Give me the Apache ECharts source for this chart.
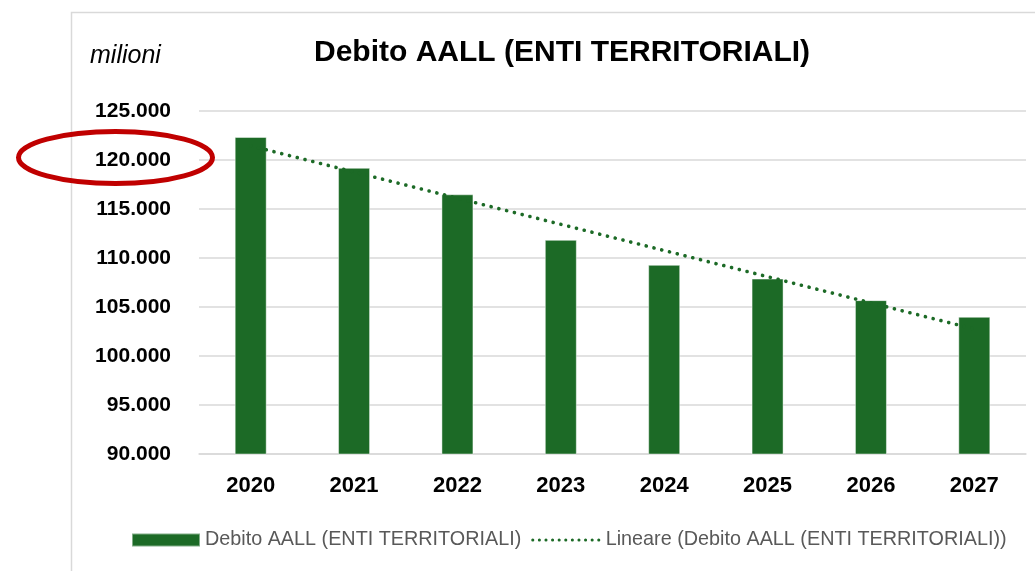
<!DOCTYPE html>
<html>
<head>
<meta charset="utf-8">
<script src="https://cdn.jsdelivr.net/npm/echarts@6/dist/echarts.min.js"></script>
<style>
  html, body { margin: 0; padding: 0; background: #fff; }
  #chart { width: 1035px; height: 571px; }
</style>
</head>
<body>
<div id="chart"></div>
<script>
// anni e valori (milioni)
var years = ['2020', '2021', '2022', '2023', '2024', '2025', '2026', '2027'];
var debito = [122350, 119200, 116500, 111850, 109300, 107900, 105700, 104000];
// linea di tendenza lineare: solo estremi
var tendenza = [121450, null, null, null, null, null, null, 102750];
var yTicks = [90000, 95000, 100000, 105000, 110000, 115000, 120000, 125000];

var serieName = 'Debito AALL (ENTI TERRITORIALI)';
var trendName = 'Lineare (Debito AALL (ENTI TERRITORIALI))';

function fmt(v) {
    return String(v).replace(/\B(?=(\d{3})+(?!\d))/g, '.');
}

var dom = document.getElementById('chart');
var myChart = echarts.init(dom);

var option = {
    animation: false,
    title: {
        text: serieName,
        left: 314,
        top: 38,
        padding: 0,
        textStyle: {
            fontFamily: 'Liberation Sans',
            fontSize: 30,
            fontWeight: 'bold',
            color: '#000'
        }
    },
    legend: {
        left: 131,
        top: 530,
        padding: 0,
        itemWidth: 68,
        itemHeight: 13,
        itemGap: 10,
        textStyle: {
            fontFamily: 'Liberation Sans',
            fontSize: 19.8,
            color: '#595959'
        },
        data: [
            { name: serieName, icon: 'rect' },
            {
                name: trendName,
                itemStyle: { opacity: 0 },
                lineStyle: { width: 3, type: [0.1, 6.5], cap: 'round' }
            }
        ]
    },
    grid: {
        left: 199,
        right: 9,
        top: 111,
        bottom: 117
    },
    xAxis: {
        type: 'category',
        data: years,
        axisTick: { show: false },
        axisLine: { lineStyle: { color: '#d9d9d9', width: 1.5 } },
        axisLabel: {
            margin: 21,
            fontFamily: 'Liberation Sans',
            fontSize: 22,
            fontWeight: 'bold',
            color: '#000'
        }
    },
    yAxis: {
        type: 'value',
        min: yTicks[0],
        max: yTicks[yTicks.length - 1],
        interval: 5000,
        axisLine: { show: false },
        axisTick: { show: false },
        splitLine: { lineStyle: { color: '#d9d9d9', width: 1.5 } },
        axisLabel: {
            margin: 28,
            fontFamily: 'Liberation Sans',
            fontSize: 21,
            fontWeight: 'bold',
            color: '#000',
            formatter: fmt
        }
    },
    graphic: [
        {
            type: 'rect',
            z: -1,
            shape: { x: 71.5, y: 12.5, width: 1100, height: 700 },
            style: { fill: 'none', stroke: '#d9d9d9', lineWidth: 1.5 }
        },
        {
            type: 'text',
            left: 90,
            top: 44,
            style: {
                text: 'milioni',
                fontFamily: 'Liberation Sans',
                fontStyle: 'italic',
                fontSize: 25,
                fill: '#000'
            }
        },
        {
            type: 'ellipse',
            z: 100,
            shape: { cx: 115.5, cy: 157.5, rx: 97, ry: 26 },
            style: { fill: 'none', stroke: '#C00000', lineWidth: 5 }
        }
    ],
    series: [
        {
            name: serieName,
            type: 'bar',
            barWidth: 32,
            data: debito,
            itemStyle: {
                color: '#1C6A26',
                borderColor: 'rgba(255,255,255,0.45)',
                borderWidth: 1
            }
        },
        {
            name: trendName,
            type: 'line',
            data: tendenza,
            connectNulls: true,
            symbol: 'none',
            z: 5,
            itemStyle: { color: '#1C6A26' },
            lineStyle: {
                color: '#1C6A26',
                width: 3.6,
                type: [0.1, 7.9],
                cap: 'round'
            }
        }
    ]
};

if (option && typeof option === 'object') {
    myChart.setOption(option, true);
}
window.addEventListener('resize', function () {
    myChart.resize();
});
</script>
</body>
</html>
